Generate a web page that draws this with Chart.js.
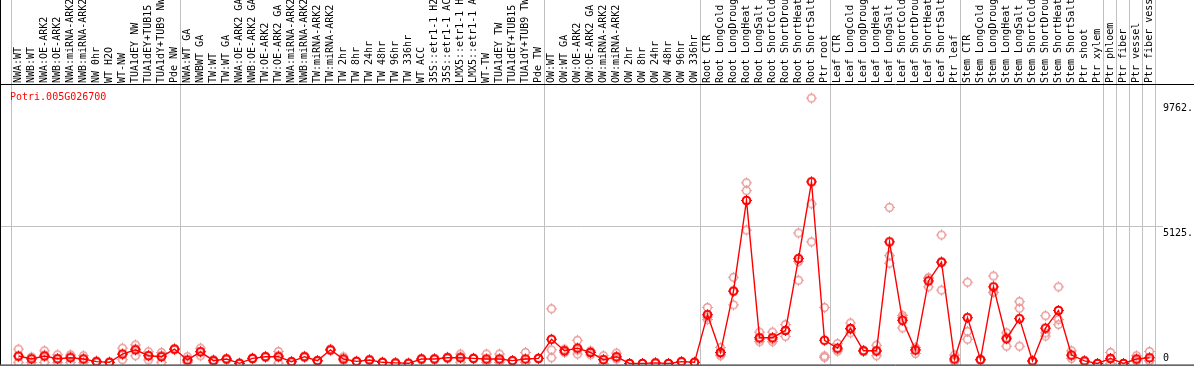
<!DOCTYPE html>
<html>
<head>
<meta charset="utf-8">
<script src="https://cdn.jsdelivr.net/npm/chart.js@4"></script>
<style>
    html, body { margin: 0; padding: 0; background: #fff; }
    #wrap { width: 1194px; height: 370px; }
</style>
</head>
<body>
<div id="wrap"><canvas id="exprChart" width="1194" height="370"></canvas></div>
<script>
// Échantillons (axe du haut)
const categories = [
    'NWA:WT', 'NWB:WT', 'NWA:OE-ARK2', 'NWB:OE-ARK2', 'NWA:miRNA-ARK2', 'NWB:miRNA-ARK2', 'NW 0hr', 'WT H2O', 'WT-NW',
    'TUA1dEY NW', 'TUA1dEY+TUB15', 'TUA1dY+TUB9 NW', 'Pde NW',
    'NWA:WT GA', 'NWBWT GA', 'TW:WT', 'TW:WT GA', 'NWA:OE-ARK2 GA', 'NWB:OE-ARK2 GA', 'TW:OE-ARK2', 'TW:OE-ARK2 GA',
    'NWA:miRNA-ARK2', 'NWB:miRNA-ARK2', 'TW:miRNA-ARK2', 'TW:miRNA-ARK2', 'TW 2hr', 'TW 8hr', 'TW 24hr', 'TW 48hr',
    'TW 96hr', 'TW 336hr', 'WT ACC', '35S::etr1-1 H2O', '35S::etr1-1 ACC', 'LMX5::etr1-1 H2O', 'LMX5::etr1-1 ACC',
    'WT-TW', 'TUA1dEY TW', 'TUA1dEY+TUB15', 'TUA1dY+TUB9 TW', 'Pde TW',
    'OW:WT', 'OW:WT GA', 'OW:OE-ARK2', 'OW:OE-ARK2 GA', 'OW:miRNA-ARK2', 'OW:miRNA-ARK2', 'OW 2hr', 'OW 8hr',
    'OW 24hr', 'OW 48hr', 'OW 96hr', 'OW 336hr',
    'Root CTR', 'Root LongCold', 'Root LongDrought', 'Root LongHeat', 'Root LongSalt', 'Root ShortCold',
    'Root ShortDrought', 'Root ShortHeat', 'Root ShortSalt', 'Ptr root',
    'Leaf CTR', 'Leaf LongCold', 'Leaf LongDrought', 'Leaf LongHeat', 'Leaf LongSalt', 'Leaf ShortCold',
    'Leaf ShortDrought', 'Leaf ShortHeat', 'Leaf ShortSalt', 'Ptr leaf',
    'Stem CTR', 'Stem LongCold', 'Stem LongDrought', 'Stem LongHeat', 'Stem LongSalt', 'Stem ShortCold',
    'Stem ShortDrought', 'Stem ShortHeat', 'Stem ShortSalt', 'Ptr shoot', 'Ptr xylem',
    'Ptr phloem', 'Ptr fiber', 'Ptr vessel', 'Ptr fiber vessel'
];

// Moyennes
const means = [
    282, 172, 282, 183, 220, 172, 73, 48, 356, 514, 293, 257, 539,
    136, 440, 110, 172, 10, 194, 257, 257, 73, 257, 110, 514, 172, 84, 136, 48, 26, 11,
    172, 172, 220, 220, 194, 172, 172, 110, 172, 194,
    906, 477, 576, 414, 147, 257, 5, 5, 26, 5, 73, 48,
    1823, 414, 2703, 6078, 965, 965, 1236, 3914, 6775, 869,
    576, 1310, 477, 477, 4537, 1614, 503, 3081, 3778, 172,
    1713, 147, 2861, 928, 1676, 99, 1320, 1981, 319, 99, 5,
    194, 5, 172, 220
];

// Réplicats
const rep1 = [
    539, 231, 477, 330, 330, 293, 48, 40, 576, 697, 440, 414, 560,
    257, 576, 150, 180, 10, 210, 270, 451, 80, 280, 120, 540, 250, 90, 140, 50, 30, 10,
    180, 180, 240, 356, 200, 356, 356, 115, 414, 200,
    2043, 539, 869, 477, 293, 392, 5, 5, 30, 5, 80, 50,
    2091, 598, 3217, 6738, 1174, 1174, 1456, 4867, 9893, 2091,
    745, 1515, 500, 686, 5821, 1797, 598, 3191, 4794, 319,
    3033, 160, 3265, 1148, 2311, 110, 1786, 2861, 477, 110, 5,
    414, 5, 293, 451
];
const rep2 = [
    48, 48, 48, 48, 48, 48, 100, 60, 147, 293, 136, 48, 520,
    48, 293, 60, 160, 5, 180, 240, 20, 60, 240, 100, 500, 130, 80, 130, 45, 20, 12,
    165, 165, 200, 48, 185, 48, 48, 105, 48, 190,
    514, 414, 356, 330, 0, 172, 5, 5, 20, 5, 65, 45,
    1640, 293, 2190, 6445, 818, 818, 1016, 3804, 5953, 231,
    466, 1148, 460, 293, 4024, 1331, 378, 2861, 2740, 100,
    1199, 130, 2652, 649, 2065, 90, 1027, 1640, 194, 90, 5,
    0, 5, 100, 100
];
const rep3 = [
    260, 240, 320, 170, 282, 175, 70, 45, 345, 550, 300, 310, 540,
    100, 450, 120, 175, 15, 190, 260, 300, 80, 250, 110, 500, 135, 80, 140, 50, 28, 11,
    170, 170, 220, 256, 197, 112, 112, 110, 54, 192,
    220, 478, 503, 435, 148, 207, 5, 5, 28, 5, 75, 50,
    1738, 351, 2702, 4977, 903, 903, 1236, 3107, 4537, 285,
    517, 1267, 470, 452, 3741, 1714, 533, 3191, 3800, 97,
    906, 150, 2666, 987, 649, 97, 1147, 1456, 286, 97, 5,
    168, 5, 123, 109
];

// Début de chaque groupe (lignes verticales grises)
const groupStarts = [0, 13, 41, 53, 63, 73, 84, 85, 86, 87, 88];

// Graduations de droite
const yTickValues = [9762, 5125, 0];
const yTickLabels = ['9762.', '5125.', '0'];

const geneName = 'Potri.005G026700';

const MONO = '"DejaVu Sans Mono", monospace';

// Marqueur : cercle avec petites encoches
function makeMarker(color, lineWidth) {
    const c = document.createElement('canvas');
    c.width = 13;
    c.height = 13;
    const g = c.getContext('2d');
    g.strokeStyle = color;
    g.lineWidth = lineWidth;
    g.beginPath();
    g.arc(6.5, 6.5, 3.8, 0, Math.PI * 2);
    g.stroke();
    g.lineWidth = 1;
    g.beginPath();
    g.moveTo(6.5, 1); g.lineTo(6.5, 2.5);
    g.moveTo(6.5, 10.5); g.lineTo(6.5, 12);
    g.moveTo(1, 6.5); g.lineTo(2.5, 6.5);
    g.moveTo(10.5, 6.5); g.lineTo(12, 6.5);
    g.stroke();
    return c;
}
const meanMarker = makeMarker('#ff0000', 2);
const repMarker = makeMarker('rgb(236,150,150)', 1.4);

// Cadre, grilles et textes
const framePlugin = {
    id: 'frame',
    beforeDatasetsDraw(chart) {
        const { ctx, chartArea } = chart;
        const x = chart.scales.x;
        const y = chart.scales.y;
        ctx.save();
        ctx.strokeStyle = '#c0c0c0';
        ctx.lineWidth = 1;
        ctx.beginPath();
        groupStarts.forEach(i => {
            const px = Math.round(x.getPixelForValue(i - 0.5)) - 0.5;
            ctx.moveTo(px, 0);
            ctx.lineTo(px, chartArea.bottom);
        });
        const gy = Math.round(y.getPixelForValue(5125)) + 0.5;
        ctx.moveTo(0, gy);
        ctx.lineTo(chartArea.right + 7, gy);
        ctx.stroke();
        ctx.restore();
    },
    afterDraw(chart) {
        const { ctx, chartArea, width } = chart;
        const y = chart.scales.y;
        ctx.save();
        ctx.strokeStyle = '#000';
        ctx.lineWidth = 1;
        ctx.beginPath();
        ctx.moveTo(0, chartArea.top - 0.5);
        ctx.lineTo(width, chartArea.top - 0.5);
        ctx.moveTo(0, chartArea.bottom + 0.5);
        ctx.lineTo(width, chartArea.bottom + 0.5);
        ctx.moveTo(0.5, 0);
        ctx.lineTo(0.5, chartArea.bottom);
        ctx.stroke();

        ctx.font = '10px ' + MONO;
        ctx.textBaseline = 'middle';
        ctx.textAlign = 'left';
        ctx.fillStyle = '#ff0000';
        ctx.fillText(geneName, 10, chartArea.top + 12);

        ctx.fillStyle = '#000';
        yTickValues.forEach((v, i) => {
            const py = Math.min(y.getPixelForValue(v) + 7, chartArea.bottom - 6);
            ctx.fillText(yTickLabels[i], chartArea.right + 7, py);
        });
        ctx.restore();
    }
};

const ctx = document.getElementById('exprChart').getContext('2d');
const chart = new Chart(ctx, {
    type: 'line',
    data: {
        labels: categories,
        datasets: [
            {
                label: 'mean',
                data: means,
                borderColor: '#ff0000',
                borderWidth: 1.4,
                pointStyle: meanMarker,
                tension: 0,
                clip: 0,
                order: 0
            },
            {
                label: 'rep1',
                data: rep1,
                showLine: false,
                pointStyle: repMarker,
                clip: 0,
                order: 1
            },
            {
                label: 'rep2',
                data: rep2,
                showLine: false,
                pointStyle: repMarker,
                clip: 0,
                order: 2
            },
            {
                label: 'rep3',
                data: rep3,
                showLine: false,
                pointStyle: repMarker,
                clip: 0,
                order: 3
            }
        ]
    },
    options: {
        responsive: false,
        animation: false,
        events: [],
        layout: {
            padding: { left: 12, right: 38, top: 0, bottom: 1 }
        },
        plugins: {
            legend: { display: false },
            title: { display: false },
            tooltip: { enabled: false }
        },
        scales: {
            x: {
                position: 'top',
                offset: true,
                grid: { display: false, drawTicks: false },
                border: { display: false },
                ticks: {
                    autoSkip: false,
                    minRotation: 90,
                    maxRotation: 90,
                    padding: 2,
                    labelOffset: 12,
                    color: '#000',
                    font: { family: MONO, size: 10 }
                },
                afterFit: function(scale) {
                    scale.height = 85;
                }
            },
            y: {
                display: false,
                min: -37,
                max: 10382
            }
        }
    },
    plugins: [framePlugin]
});
</script>
</body>
</html>
